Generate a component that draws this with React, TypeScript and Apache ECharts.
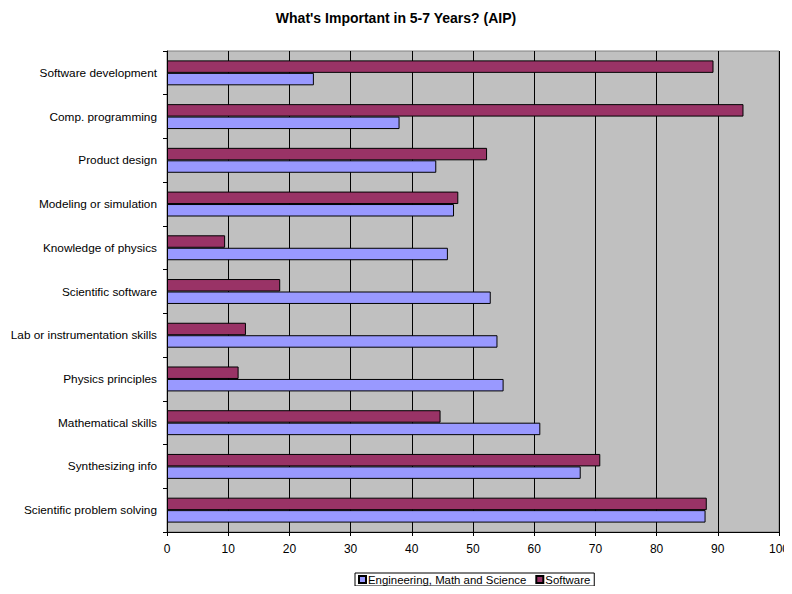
import React, { useEffect, useRef } from "react";
import * as echarts from "echarts";

const categories = [
  "Software development",
  "Comp. programming",
  "Product design",
  "Modeling or simulation",
  "Knowledge of physics",
  "Scientific software",
  "Lab or instrumentation skills",
  "Physics principles",
  "Mathematical skills",
  "Synthesizing info",
  "Scientific problem solving",
];
const engineering = [24.0, 38.0, 44.0, 46.9, 45.9, 52.9, 54.0, 55.0, 61.0, 67.6, 88.0];
const software = [89.3, 94.2, 52.3, 47.6, 9.5, 18.5, 12.9, 11.7, 44.7, 70.8, 88.2];
const xTicks = [0, 10, 20, 30, 40, 50, 60, 70, 80, 90, 100];

const FONT = "Liberation Sans, Arial, sans-serif";

export default function App() {
  const ref = useRef<HTMLDivElement>(null);
  useEffect(() => {
    const chart = echarts.init(ref.current!, null, { renderer: "svg" });
    chart.setOption({
      animation: false,
      backgroundColor: "#ffffff",
      title: {
        text: "What's Important in 5-7 Years? (AIP)",
        left: "center",
        top: 6,
        textStyle: { fontSize: 14, fontWeight: "bold", color: "#000", fontFamily: FONT },
      },
      grid: {
        left: 167,
        right: 8,
        top: 51,
        bottom: 62,
        show: true,
        backgroundColor: "#c0c0c0",
        borderColor: "#808080",
        borderWidth: 1,
      },
      legend: {
        data: ["Engineering, Math and Science", "Software"],
        bottom: 8,
        left: 355,
        itemWidth: 7,
        itemHeight: 7,
        itemGap: 9,
        icon: "rect",
        borderColor: "#000",
        borderWidth: 1,
        padding: [1, 4, 1, 3],
        textStyle: { fontSize: 11.4, color: "#000", fontFamily: FONT, padding: [0, 0, 0, -3] },
      },
      xAxis: {
        type: "value",
        min: xTicks[0],
        max: xTicks[xTicks.length - 1],
        interval: 10,
        axisLine: { show: true, lineStyle: { color: "#000", width: 1 } },
        axisTick: { show: true, length: 4, lineStyle: { color: "#000" } },
        axisLabel: { fontSize: 12, color: "#000", fontFamily: FONT, margin: 11 },
        splitLine: { show: true, lineStyle: { color: "#000", width: 1 } },
      },
      yAxis: {
        type: "category",
        data: categories,
        inverse: true,
        axisLine: { show: true, lineStyle: { color: "#000", width: 1 } },
        axisTick: { show: true, length: 4, lineStyle: { color: "#000" } },
        axisLabel: { fontSize: 11.8, color: "#000", fontFamily: FONT, margin: 10 },
        splitLine: { show: false },
      },
      series: [
        {
          name: "Software",
          type: "bar",
          data: software,
          barGap: "0%",
          barCategoryGap: "43%",
          itemStyle: { color: "#993366", borderColor: "#000", borderWidth: 1 },
        },
        {
          name: "Engineering, Math and Science",
          type: "bar",
          data: engineering,
          barGap: "0%",
          barCategoryGap: "43%",
          itemStyle: { color: "#9999ff", borderColor: "#000", borderWidth: 1 },
        },
      ],
    });
    return () => chart.dispose();
  }, []);
  return <div ref={ref} style={{ width: 792, height: 594, margin: -8 }} />;
}
